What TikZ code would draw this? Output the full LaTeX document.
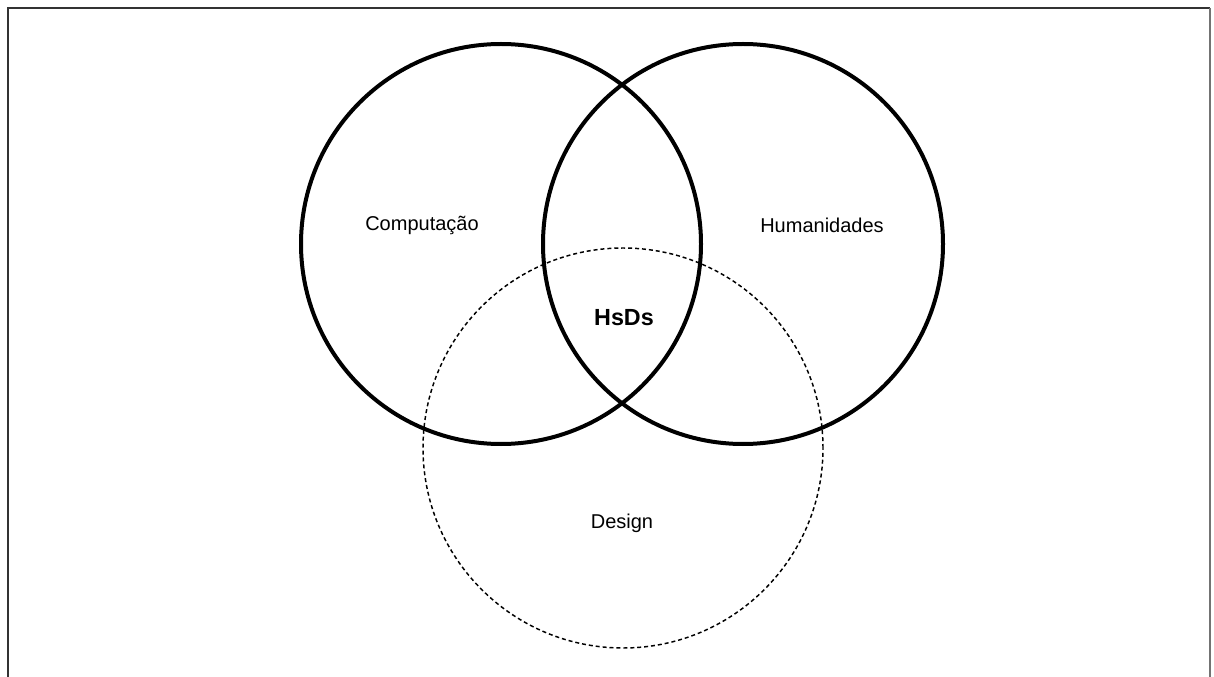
\documentclass[tikz,border=0pt]{standalone}
\usepackage{fontspec}
\setmainfont{Liberation Sans}
\begin{document}
\begin{tikzpicture}[x=0.75pt,y=-0.75pt,
  setcircle/.style={draw=black,line width=3pt},
  dashcircle/.style={draw=black,line width=1.1pt,dash pattern=on 3pt off 2.2pt},
  label/.style={font=\fontsize{15pt}{17pt}\selectfont},
  core/.style={font=\fontsize{17.5pt}{20pt}\selectfont\bfseries}]
  \useasboundingbox (0,0) rectangle (1214,677);
  % frame, open at the bottom
  \draw[line width=1.5pt,draw=black!80] (8,690) -- (8,8) -- (1210,8);
  \draw[line width=1.5pt,draw=black!55] (1210,8) -- (1210,690);
  % the three sets
  \node[setcircle,circle,minimum size=400*0.75pt,inner sep=0pt] (comp) at (501,244) {};
  \node[setcircle,circle,minimum size=400*0.75pt,inner sep=0pt] (hum) at (743,244) {};
  \node[dashcircle,circle,minimum size=400*0.75pt,inner sep=0pt] (des) at (623,448) {};
  % labels
  \node[label] (lcomp) at (422,225) {Computação};
  \node[label] (lhum) at (822,225) {Humanidades};
  \node[label] (ldes) at (622,523) {Design};
  \node[core] (lcore) at (624,318) {HsDs};
\end{tikzpicture}
\end{document}
